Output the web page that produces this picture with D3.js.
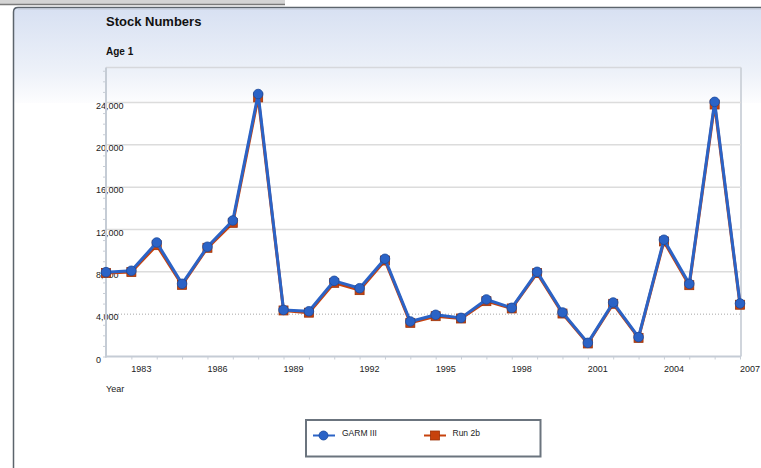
<!DOCTYPE html>
<html>
<head>
<meta charset="utf-8">
<script src="https://cdn.jsdelivr.net/npm/d3@7"></script>
<style>
  html, body { margin: 0; padding: 0; background: #fff; }
  svg { display: block; font-family: "Liberation Sans", Arial, sans-serif; }
</style>
</head>
<body>
<svg id="chart" width="761" height="468"></svg>
<script>
const years = [1982,1983,1984,1985,1986,1987,1988,1989,1990,1991,1992,1993,1994,1995,1996,1997,1998,1999,2000,2001,2002,2003,2004,2005,2006,2007];
const garm = [7970,8100,10770,6870,10370,12850,24800,4400,4270,7150,6450,9230,3310,3940,3650,5390,4600,8000,4160,1290,5100,1830,11030,6870,24060,5010];
const run2b = [7900,7980,10520,6770,10270,12630,24480,4350,4140,6960,6270,9070,3180,3810,3590,5230,4540,7880,4060,1230,4980,1760,10870,6740,23810,4890];
const xTickYears = [1983,1986,1989,1992,1995,1998,2001,2004,2007];
const yTickValues = [0,4000,8000,12000,16000,20000,24000];
const seriesNames = ["GARM III","Run 2b"];

const svg = d3.select("#chart");
const blue = "#2b63c6", blueDark = "#1c4a9c";
const orange = "#c7420d", orangeDark = "#9c3208";

// Panel background
const defs = svg.append("defs");
const grad = defs.append("linearGradient").attr("id","bg").attr("x1",0).attr("y1",0).attr("x2",0).attr("y2",1);
grad.append("stop").attr("offset","0%").attr("stop-color","#d7e0f2");
grad.append("stop").attr("offset","70%").attr("stop-color","#eef2f9");
grad.append("stop").attr("offset","100%").attr("stop-color","#fdfdfe");
svg.append("rect").attr("x",13).attr("y",7).attr("width",760).attr("height",96).attr("rx",4).attr("fill","url(#bg)");

// top bar
svg.append("rect").attr("x",0).attr("y",0).attr("width",285).attr("height",5).attr("fill","#d4d4d4");
svg.append("line").attr("x1",0).attr("x2",285).attr("y1",4.5).attr("y2",4.5).attr("stroke","#7a7a7a").attr("stroke-width",1.5);
// panel border
svg.append("path").attr("d","M13.5,468 L13.5,12 Q13.5,7.5 18,7.5 L761,7.5").attr("fill","none").attr("stroke","#5c646c").attr("stroke-width",1.5);
svg.append("line").attr("x1",18).attr("x2",761).attr("y1",9).attr("y2",9).attr("stroke","#c2cad6").attr("stroke-width",1);

// scales
const x = d3.scaleLinear().domain([1982,2007]).range([106,740]);
const y = d3.scaleLinear().domain([0,24000]).range([356.5,102.5]);
const plotTop = 67.5, plotRight = 741;

// frame top/right
svg.append("line").attr("x1",106).attr("x2",plotRight).attr("y1",plotTop).attr("y2",plotTop).attr("stroke","#d6d8dc").attr("stroke-width",1.5);
svg.append("line").attr("x1",plotRight).attr("x2",plotRight).attr("y1",plotTop).attr("y2",356.5).attr("stroke","#d0d5dc").attr("stroke-width",2);

// grid
svg.append("g").selectAll("line").data(yTickValues.filter(v => v >= 8000)).join("line")
  .attr("x1",106).attr("x2",plotRight).attr("y1",d=>y(d)).attr("y2",d=>y(d))
  .attr("stroke","#dcdcdc").attr("stroke-width",1.5);
svg.append("line").attr("x1",106).attr("x2",plotRight).attr("y1",y(4000)).attr("y2",y(4000))
  .attr("stroke","#a8a8a8").attr("stroke-width",1).attr("stroke-dasharray","1,2");

// y axis minor ticks
const yMinor = d3.range(0, 27001, 1000);
const yAxis = d3.axisLeft(y).tickValues(yMinor.filter(v => y(v) >= plotTop)).tickSize(3).tickFormat("");
const gy = svg.append("g").attr("transform","translate(106,0)").call(yAxis);
gy.select(".domain").remove();
gy.selectAll(".tick line").attr("stroke","#c8ced6");
// y labels
svg.append("g").selectAll("text").data(yTickValues).join("text")
  .attr("x",96).attr("y",d=>y(d)+6).attr("font-size",9).attr("fill","#222")
  .text(d=>d3.format(",")(d));

// x axis
const xAxis = d3.axisBottom(x).tickValues(years.slice(1)).tickSize(3).tickFormat("");
const gx = svg.append("g").attr("transform","translate(0,356.5)").call(xAxis);
gx.select(".domain").remove();
gx.selectAll(".tick line").attr("stroke","#c8ced6");
svg.append("g").selectAll("text").data(xTickYears).join("text")
  .attr("x",d=>x(d)).attr("y",372).attr("font-size",9).attr("fill","#222").text(d=>d);

// axis lines
svg.append("line").attr("x1",106).attr("x2",106).attr("y1",plotTop).attr("y2",357.5).attr("stroke","#c5ccd5").attr("stroke-width",2);
svg.append("line").attr("x1",105).attr("x2",plotRight).attr("y1",356.5).attr("y2",356.5).attr("stroke","#c5ccd5").attr("stroke-width",2);

// series
const line = d3.line().x((d,i)=>x(years[i])).y(d=>y(d));
svg.append("path").datum(run2b).attr("d",line).attr("fill","none").attr("stroke",orange).attr("stroke-width",3).attr("stroke-linejoin","round");
svg.append("g").selectAll("rect").data(run2b).join("rect")
  .attr("x",(d,i)=>x(years[i])-4.5).attr("y",d=>y(d)-4.5).attr("width",9).attr("height",9)
  .attr("fill",orange).attr("stroke",orangeDark).attr("stroke-width",0.8);
svg.append("path").datum(garm).attr("d",line).attr("fill","none").attr("stroke",blue).attr("stroke-width",3).attr("stroke-linejoin","round");
svg.append("g").selectAll("circle").data(garm).join("circle")
  .attr("cx",(d,i)=>x(years[i])).attr("cy",d=>y(d)).attr("r",4.8)
  .attr("fill",blue).attr("stroke",blueDark).attr("stroke-width",0.8);

// titles
svg.append("text").attr("x",106).attr("y",25.5).attr("font-size",13).attr("font-weight","bold").attr("fill","#111").text("Stock Numbers");
svg.append("text").attr("x",106).attr("y",55).attr("font-size",10).attr("font-weight","bold").attr("fill","#111").text("Age 1");
svg.append("text").attr("x",106).attr("y",392).attr("font-size",9).attr("fill","#222").text("Year");

// legend
svg.append("rect").attr("x",306).attr("y",420).attr("width",234.5).attr("height",36.5).attr("fill","#fff").attr("stroke","#6b747e").attr("stroke-width",2);
const lg = svg.append("g");
lg.append("line").attr("x1",313).attr("x2",335).attr("y1",435.5).attr("y2",435.5).attr("stroke",blue).attr("stroke-width",2);
lg.append("circle").attr("cx",323.5).attr("cy",435.5).attr("r",4.5).attr("fill",blue).attr("stroke",blueDark).attr("stroke-width",0.8);
lg.append("text").attr("x",342).attr("y",436).attr("font-size",8.5).attr("fill","#222").text(seriesNames[0]);
lg.append("line").attr("x1",424).attr("x2",446).attr("y1",435.5).attr("y2",435.5).attr("stroke",orange).attr("stroke-width",2);
lg.append("rect").attr("x",430.5).attr("y",431).attr("width",9).attr("height",9).attr("fill",orange).attr("stroke",orangeDark).attr("stroke-width",0.8);
lg.append("text").attr("x",452.5).attr("y",436).attr("font-size",8.5).attr("fill","#222").text(seriesNames[1]);
</script>
</body>
</html>
